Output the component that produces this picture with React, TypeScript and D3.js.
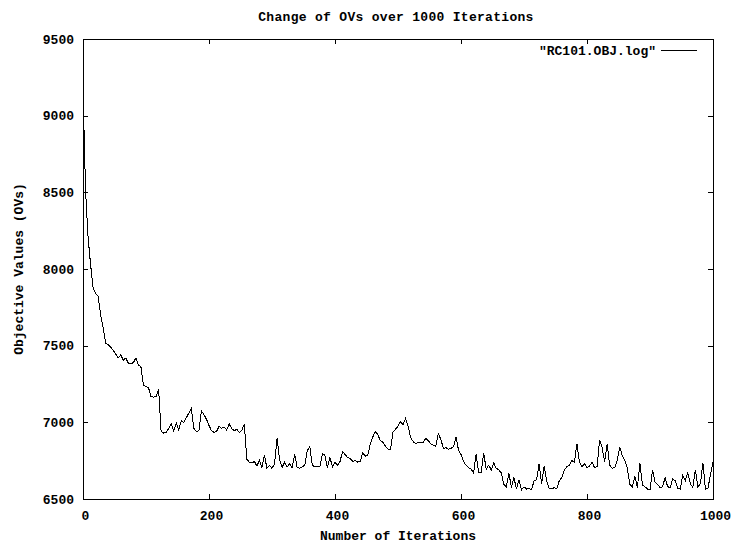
import { useMemo } from "react";
import * as d3 from "d3";

const STEP = 4;
const ovs = [
  9170, 8520, 8210, 8030, 7880, 7840, 7825, 7700, 7620, 7515,
  7505, 7490, 7470, 7445, 7420, 7440, 7405, 7420, 7385, 7380,
  7390, 7420, 7375, 7360, 7240, 7235, 7225, 7167, 7165, 7170,
  7215, 6940, 6930, 6935, 6960, 6990, 6945, 6995, 6950, 7010,
  7000, 7030, 7060, 7090, 6960, 6940, 6945, 7075, 7050, 7020,
  6980, 6945, 6935, 6940, 6975, 6960, 6970, 6950, 6990, 6960,
  6945, 6955, 6935, 6945, 6990, 6760, 6740, 6735, 6745, 6715,
  6750, 6705, 6785, 6700, 6720, 6700, 6730, 6895, 6760, 6705,
  6740, 6710, 6730, 6705, 6790, 6705, 6700, 6710, 6720, 6815,
  6840, 6720, 6710, 6715, 6710, 6795, 6785, 6705, 6770, 6710,
  6740, 6720, 6745, 6810, 6790, 6770, 6765, 6745, 6750, 6740,
  6745, 6800, 6780, 6785, 6860, 6905, 6940, 6920, 6880, 6870,
  6845, 6825, 6820, 6935, 6955, 6975, 7005, 6985, 7025, 6975,
  6900, 6875, 6860, 6870, 6865, 6870, 6895, 6880, 6860, 6850,
  6845, 6925, 6890, 6830, 6835, 6825, 6830, 6840, 6905, 6820,
  6790, 6745, 6720, 6705, 6695, 6670, 6795, 6670, 6670, 6800,
  6695, 6720, 6690, 6735, 6700, 6690, 6670, 6595, 6580, 6670,
  6575, 6640, 6565, 6625, 6560, 6580, 6565, 6570, 6560, 6620,
  6625, 6730, 6600, 6715, 6620, 6570, 6565, 6575, 6565, 6620,
  6640, 6690, 6710, 6720, 6750, 6740, 6860, 6740, 6710, 6730,
  6705, 6715, 6740, 6705, 6710, 6885, 6835, 6745, 6860, 6720,
  6700, 6705, 6750, 6840, 6780, 6755, 6700, 6595, 6580, 6650,
  6575, 6735, 6590, 6580, 6565, 6560, 6690, 6610, 6595, 6575,
  6580, 6640, 6580, 6575, 6630, 6620, 6570, 6565, 6655, 6620,
  6670, 6600, 6575, 6690, 6580, 6600, 6735, 6565, 6570, 6660,
  6740,
];

const xTicks = [0, 200, 400, 600, 800, 1000];
const yTicks = [6500, 7000, 7500, 8000, 8500, 9000, 9500];

const W = 733;
const H = 548;
const M = { top: 39, right: 20, bottom: 49, left: 83 };
const FONT = "'Liberation Mono', 'DejaVu Sans Mono', monospace";
const TICK = 5;

export default function App() {
  const x = d3.scaleLinear().domain([0, 1000]).range([M.left, W - M.right]);
  const y = d3.scaleLinear().domain([6500, 9500]).range([H - M.bottom, M.top]);

  const path = useMemo(() => {
    const line = d3.line<number>()
      .x((_, i) => x(i * STEP))
      .y(d => y(d));
    return line(ovs) || "";
  }, []);

  const x0 = x(0), x1 = x(1000), y0 = y(6500), y1 = y(9500);
  const txt = { fontFamily: FONT, fontSize: 13, fontWeight: 700, fill: "#000" };

  return (
    <svg width={W} height={H} style={{ position: "absolute", left: 0, top: 0, background: "#fff" }}>
      <text x={396} y={21} textAnchor="middle" style={{ ...txt, letterSpacing: 0.3 }}>
        Change of OVs over 1000 Iterations
      </text>

      {/* frame */}
      <rect x={x0 + 0.5} y={y1 + 0.5} width={x1 - x0} height={y0 - y1}
        fill="none" stroke="#000" strokeWidth={1} shapeRendering="crispEdges" />

      {/* y ticks, mirrored on right */}
      {yTicks.map(t => (
        <g key={"y" + t}>
          <line x1={x0} x2={x0 + TICK} y1={Math.round(y(t)) + 0.5} y2={Math.round(y(t)) + 0.5}
            stroke="#000" shapeRendering="crispEdges" />
          <line x1={x1} x2={x1 - TICK} y1={Math.round(y(t)) + 0.5} y2={Math.round(y(t)) + 0.5}
            stroke="#000" shapeRendering="crispEdges" />
          <text x={74} y={y(t) + 4.5} textAnchor="end" style={txt}>{t}</text>
        </g>
      ))}

      {/* x ticks, mirrored on top */}
      {xTicks.map(t => (
        <g key={"x" + t}>
          <line x1={Math.round(x(t)) + 0.5} x2={Math.round(x(t)) + 0.5} y1={y0} y2={y0 - TICK}
            stroke="#000" shapeRendering="crispEdges" />
          <line x1={Math.round(x(t)) + 0.5} x2={Math.round(x(t)) + 0.5} y1={y1} y2={y1 + TICK}
            stroke="#000" shapeRendering="crispEdges" />
          <text x={x(t) + 2.5} y={519.5} textAnchor="middle" style={txt}>{t}</text>
        </g>
      ))}

      <text x={398} y={540} textAnchor="middle" style={txt}>Number of Iterations</text>
      <text transform={`translate(23,${(y0 + y1) / 2}) rotate(-90)`} textAnchor="middle" style={txt}>
        Objective Values (OVs)
      </text>

      {/* legend */}
      <text x={656} y={55} textAnchor="end" style={txt}>"RC101.OBJ.log"</text>
      <line x1={661} x2={697} y1={50.5} y2={50.5} stroke="#000" shapeRendering="crispEdges" />

      <path d={path} fill="none" stroke="#000" strokeWidth={1} shapeRendering="crispEdges" />
    </svg>
  );
}
